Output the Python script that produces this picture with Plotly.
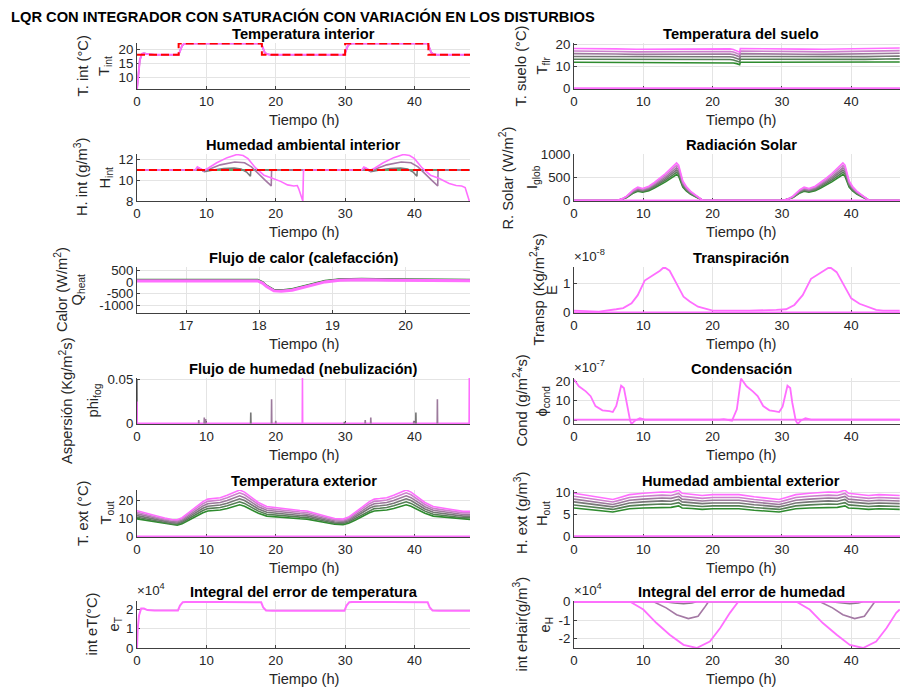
import plotly.graph_objects as go

# ------------------------------------------------------------------ data
COLORS = ["#2e8b2e", "#567e56", "#777777", "#9c7a9c", "#cc80cc", "#ff6eff"]

# 1 Temperatura interior
tin_t = [0, 0.15, 0.4, 0.7, 1.0, 1.5, 2.5, 6.0, 6.25, 6.5, 6.8, 7.2, 17.9, 18.15, 18.4, 18.7, 19.2,
         29.9, 30.15, 30.4, 30.7, 31.1, 41.9, 42.15, 42.4, 42.7, 43.2, 48.0]
tin_v = [5.8, 11.0, 16.0, 18.3, 18.5, 18.2, 18.0, 18.0, 19.5, 21.2, 21.9, 22.0, 22.0, 20.5, 18.8, 18.2, 18.0,
         18.0, 19.5, 21.2, 21.9, 22.0, 22.0, 20.5, 18.8, 18.2, 18.0, 18.0]
sp_t = [0, 6, 6, 18, 18, 30, 30, 42, 42, 48]
sp_v = [18, 18, 22, 22, 18, 18, 22, 22, 18, 18]

# 2 Temperatura del suelo (top line) and relative level of each line
tfl_t = [0, 3, 6, 9, 12, 15, 18, 21, 22.5, 23.0, 23.5, 23.9, 24.0, 27, 30, 33, 36, 39, 42, 45, 47]
tfl_top = [18.3, 18.3, 18.1, 17.9, 17.9, 18.0, 18.1, 18.2, 18.1, 17.8, 17.3, 16.6, 18.3, 18.3, 18.2, 18.0,
           17.9, 18.0, 18.2, 18.4, 18.5]
tfl_lvl = [0.655, 0.73, 0.80, 0.87, 0.935, 1.0]

# 3 Humedad ambiental interior
hin_sp = 11.0
hin_gry_t = [0, 8.8, 9.1, 9.7, 11.0, 12.5, 14.0, 15.0, 15.8, 16.35, 16.4, 32.8, 33.1, 33.7, 35.0, 36.5, 38.0,
             39.0, 39.8, 40.35, 40.4, 48]
hin_gry_v = [11, 11, 11.1, 10.85, 11.0, 11.15, 11.2, 11.1, 10.8, 10.4, 11, 11, 11.1, 10.85, 11.0, 11.15, 11.2,
             11.1, 10.8, 10.4, 11, 11]
hin_pur_t = [0, 8.6, 8.9, 9.6, 10.5, 12.0, 14.1, 15.5, 16.5, 17.5, 18.5, 19.35, 19.4, 32.6, 32.9, 33.6, 34.5,
             36.0, 38.1, 39.5, 40.5, 41.5, 42.5, 43.35, 43.4, 48]
hin_pur_v = [11, 11, 11.2, 10.9, 11.1, 11.5, 11.78, 11.7, 11.3, 10.6, 10.0, 9.46, 11, 11, 11.2, 10.9, 11.1,
             11.5, 11.78, 11.7, 11.3, 10.6, 10.0, 9.46, 11, 11]
hin_mag_t = [0, 8.4, 8.7, 9.0, 9.6, 10.3, 11.5, 13.0, 14.4, 15.3, 16.0, 17.1, 18.3, 19.5, 20.7, 21.7, 22.6,
             23.1, 23.3, 23.9, 24.0, 32.4, 32.7, 33.0, 33.6, 34.3, 35.5, 37.0, 38.4, 39.3, 40.0, 41.1, 42.3,
             43.5, 45.0, 46.0, 46.8, 47.3, 47.9]
hin_mag_v = [11.0, 11.0, 11.3, 11.2, 10.95, 11.2, 11.7, 12.2, 12.5, 12.4, 12.1, 11.2, 10.5, 10.2, 9.9, 9.56,
             9.46, 9.5, 9.2, 8.0, 11.0, 11.0, 11.3, 11.2, 10.95, 11.2, 11.7, 12.2, 12.5, 12.4, 12.1, 11.2, 10.5,
             10.2, 9.7, 9.5, 9.45, 9.3, 8.0]

# 4 Radiación solar (top line) and relative level of each line
rad_t = [0, 6.2, 7.0, 7.6, 8.6, 9.2, 9.9, 10.8, 11.6, 12.4, 13.2, 13.8, 14.4, 14.8, 15.1, 15.4, 15.7, 16.2,
         16.8, 17.6, 18.6, 30.2, 31.0, 31.6, 32.6, 33.2, 33.9, 34.8, 35.6, 36.4, 37.2, 37.8, 38.4, 38.8, 39.1,
         39.4, 39.7, 40.2, 40.8, 41.6, 42.6, 47]
rad_top = [0, 0, 40, 92, 235, 285, 257, 306, 390, 480, 580, 664, 760, 807, 760, 600, 420, 300, 200, 110, 0,
           0, 40, 92, 235, 285, 257, 306, 390, 480, 580, 664, 760, 807, 760, 600, 420, 300, 200, 110, 0, 0]
rad_lvl = [0.69, 0.75, 0.81, 0.87, 0.935, 1.0]

# 5 Flujo de calor (calefacción)
q_t = [16.33, 17.98, 18.05, 18.1, 18.2, 18.3, 18.45, 18.6, 18.75, 18.9, 19.1, 19.4, 19.8, 20.3, 20.88]
q_v = [40, 40, -60, -200, -380, -400, -350, -230, -100, 0, 70, 90, 70, 50, 45]
q_off = [60, 45, 30, 20, 10, 0]

# 6 Transpiración (x1e-8)
tr_t = [0, 3.6, 6.1, 7.1, 8.3, 9.2, 10.2, 11.4, 12.4, 13.0, 13.8, 14.8, 15.8, 16.7, 17.9, 20.0, 25.3, 29.2,
        30.6, 31.8, 33.0, 34.2, 35.4, 36.4, 36.9, 37.9, 38.8, 40.0, 41.2, 43.6, 44.6, 47]
tr_v = [0.06, 0.03, 0.11, 0.15, 0.32, 0.6, 1.11, 1.28, 1.45, 1.58, 1.45, 1.0, 0.55, 0.38, 0.2, 0.06, 0.06,
        0.09, 0.11, 0.26, 0.6, 1.17, 1.34, 1.48, 1.58, 1.4, 1.0, 0.49, 0.3, 0.09, 0.06, 0.06]

# 7 Flujo de humedad (nebulización): spikes
fog_t = [0.0, 0.0, 8.9, 9.7, 9.9, 16.4, 19.4, 20.0, 23.85, 29.9, 32.9, 33.7, 39.9, 40.2, 43.3, 47.9]
fog_h = [0.050, 0.025, 0.004, 0.0068, 0.005, 0.0125, 0.0276, 0.003, 0.052, 0.002, 0.004, 0.0068, 0.003,
         0.0125, 0.0276, 0.052]
fog_c = [2, 5, 3, 3, 3, 2, 3, 3, 5, 2, 3, 3, 3, 2, 3, 5]

# 8 Condensación (x1e-7)
co_t = [0, 0.7, 1.7, 2.4, 3.1, 4.1, 5.1, 5.6, 6.1, 6.8, 7.2, 7.6, 8.1, 8.3, 8.8, 9.5, 10.2, 21.0, 21.6,
        22.8, 23.5, 24.1, 24.9, 25.8, 26.5, 27.3, 28.2, 28.9, 29.6, 30.1, 30.8, 31.2, 31.5, 32.0, 32.3, 32.7,
        33.4, 34.2, 45.4, 46.4, 47]
co_v = [21.0, 17.5, 14.9, 12.4, 7.3, 5.1, 4.7, 4.2, 7.3, 17.8, 16.6, 9.0, -0.3, -2.0, -0.3, 1.0, 0.3, 0.3, 0.5,
        -0.3, 5.6, 21.5, 17.5, 14.9, 12.4, 7.3, 5.1, 4.7, 4.2, 7.0, 17.8, 16.6, 9.0, -0.3, -2.0, -0.3, 1.0,
        0.3, 0.3, 0.5, 0.3]
co_flat = 0.3

# 9 Temperatura exterior (top line) and relative level of each line
tout_t = [0, 1, 2, 3, 4, 5, 5.8, 6.5, 7.5, 8.5, 9.5, 10.2, 11, 12, 13, 14, 14.8, 15.5, 16.5, 17.5, 18.7, 20,
          21, 22.5, 23.5, 24.5, 25.5, 26.5, 27.5, 28.5, 29.7, 30.5, 31.5, 32.5, 33.5, 34.2, 35, 36, 37, 38,
          38.8, 39.5, 40.5, 41.5, 42.7, 44, 45, 46, 47, 48]
tout_top = [14.4, 13.5, 12.5, 11.3, 10.3, 9.5, 9.3, 10.5, 13.5, 16.5, 19.5, 20.9, 21.2, 21.7, 23.0, 24.8, 26.0,
            24.8, 22.0, 19.0, 16.7, 16.0, 15.5, 14.8, 14.5, 14.2, 13.0, 12.0, 11.0, 10.0, 9.7, 10.8, 13.5,
            16.5, 19.5, 20.9, 21.2, 21.7, 23.0, 24.8, 26.0, 24.8, 22.0, 19.0, 16.7, 16.0, 15.2, 14.5, 14.0, 14.0]
tout_lvl = [0.68, 0.745, 0.81, 0.875, 0.94, 1.0]

# 10 Humedad ambiental exterior (top line) and relative level of each line
hout_t = [0, 2, 4, 5.6, 6.5, 8, 10, 12.7, 14, 15.1, 15.6, 17, 18.5, 20, 22, 23.8, 26, 28, 29.6, 30.5, 32, 34,
          36.7, 38, 39.1, 39.6, 41, 42.5, 44, 46, 47]
hout_top = [9.8, 9.3, 8.8, 8.4, 8.8, 9.5, 9.8, 10.1, 10.0, 10.5, 9.8, 9.6, 9.3, 9.5, 9.5, 9.5, 9.0, 8.6, 8.4,
            8.8, 9.5, 9.8, 10.1, 10.0, 10.5, 9.8, 9.6, 9.3, 9.5, 9.4, 9.3]
hout_lvl = [0.66, 0.73, 0.80, 0.865, 0.93, 1.0]

# 11 Integral del error de temperatura (x1e4)
et_t = [0, 0.1, 0.3, 0.6, 1.0, 1.5, 2.5, 5.9, 6.2, 6.6, 7.5, 17.9, 18.2, 18.6, 19.5, 29.9, 30.2, 30.6, 31.5,
        41.9, 42.2, 42.6, 43.5, 48]
et_v = [0, 1.0, 1.7, 2.05, 2.05, 1.97, 1.95, 1.95, 2.2, 2.38, 2.4, 2.37, 2.1, 1.95, 1.93, 1.93, 2.2, 2.38,
        2.4, 2.37, 2.1, 1.95, 1.93, 1.93]

# 12 Integral del error de humedad (x1e4)
eh_mag_t = [0, 8.1, 10.0, 11.9, 13.8, 15.8, 17.7, 19.6, 21.1, 22.5, 23.7, 32.1, 34.0, 35.9, 37.9, 39.8, 41.7,
            43.6, 45.1, 46.5, 47]
eh_mag_v = [0, 0, -0.42, -1.15, -1.78, -2.33, -2.5, -2.15, -1.42, -0.6, 0, 0, -0.42, -1.15, -1.78, -2.33, -2.5,
            -2.15, -1.42, -0.6, -0.42]
eh_pur_t = [0, 11.5, 13.3, 14.8, 16.5, 17.9, 18.8, 19.4, 35.5, 37.3, 38.8, 40.5, 41.9, 42.8, 43.4, 47]
eh_pur_v = [0, 0, -0.33, -0.7, -0.91, -0.78, -0.33, 0, 0, -0.33, -0.7, -0.91, -0.78, -0.33, 0, 0]
eh_gry_t = [0, 13.0, 14.5, 15.8, 17.0, 17.7, 37.0, 38.5, 39.8, 41.0, 41.7, 47]
eh_gry_v = [0, 0, -0.07, -0.11, -0.06, 0, 0, -0.07, -0.11, -0.06, 0, 0]

# ------------------------------------------------------------------ layout helpers
W, H = 900, 690
FONT = "Liberation Sans, Arial, Helvetica, sans-serif"
TXT = "#262626"
AXC = "#404040"
GRID = "#e4e4e4"
LEFT = (137, 470)
RIGHT = (574, 900)
ROWS = [(43, 89), (154, 201), (267, 313), (378, 424), (490, 537), (601, 648)]

panels = [
    dict(col="L", row=0, xr=[0, 48], yr=[5.8, 22.15], yt=[10, 15, 20], ytt=["10", "15", "20"],
         title="Temperatura interior", lo="T. int (°C)", li="T<sub>int</sub>", xo=82.5, xi=105),
    dict(col="R", row=0, xr=[0, 47.04], yr=[-0.3, 20.8], yt=[0, 10, 20], ytt=["0", "10", "20"],
         title="Temperatura del suelo", lo="T. suelo (°C)", li="T<sub>flr</sub>", xo=520.5, xi=542.5),
    dict(col="L", row=1, xr=[0, 48], yr=[8, 12.55], yt=[8, 10, 12], ytt=["8", "10", "12"],
         title="Humedad ambiental interior", lo="H. int (g/m<sup>3</sup>)", li="H<sub>int</sub>", xo=80.5, xi=105),
    dict(col="R", row=1, xr=[0, 47.04], yr=[-12, 1000], yt=[0, 500, 1000], ytt=["0", "500", "1000"],
         title="Radiación Solar", lo="R. Solar (W/m<sup>2</sup>)", li="I<sub>glob</sub>", xo=506, xi=532.5),
    dict(col="L", row=2, xr=[16.33, 20.88], xt=[17, 18, 19, 20], yr=[-1315, 630], yt=[-1000, -500, 0, 500],
         ytt=["-1000", "-500", "0", "500"],
         title="Flujo de calor (calefacción)", lo="Calor (W/m<sup>2</sup>)", li="Q<sub>heat</sub>", xo=61, xi=77.5),
    dict(col="R", row=2, xr=[0, 47.04], yr=[-0.02, 1.58], yt=[0, 1], ytt=["0", "1"], exp="×10<sup>-8</sup>",
         title="Transpiración", lo="Transp (Kg/m<sup>2</sup>*s)", li="E", xo=537.5, xi=552),
    dict(col="L", row=3, xr=[0, 48], yr=[-0.0006, 0.052], yt=[0, 0.05], ytt=["0", "0.05"],
         title="Flujo de humedad (nebulización)", lo="Aspersión (Kg/m<sup>2</sup>s)", li="phi<sub>fog</sub>",
         xo=66, xi=93.5),
    dict(col="R", row=3, xr=[0, 47.04], yr=[-2.0, 21.8], yt=[0, 10, 20], ytt=["0", "10", "20"], exp="×10<sup>-7</sup>",
         title="Condensación", lo="Cond (g/m<sup>2</sup>*s)", li="ϕ<sub>cond</sub>", xo=520.5, xi=542.5),
    dict(col="L", row=4, xr=[0, 48], yr=[-0.35, 26], yt=[0, 10, 20], ytt=["0", "10", "20"],
         title="Temperatura exterior", lo="T. ext (°C)", li="T<sub>out</sub>", xo=82.5, xi=106),
    dict(col="R", row=4, xr=[0, 47.04], yr=[-0.15, 10.55], yt=[0, 5, 10], ytt=["0", "5", "10"],
         title="Humedad ambiental exterior", lo="H. ext (g/m<sup>3</sup>)", li="H<sub>out</sub>", xo=520.5, xi=542.5),
    dict(col="L", row=5, xr=[0, 48], yr=[0, 2.44], yt=[0, 1, 2], ytt=["0", "1", "2"], exp="×10<sup>4</sup>",
         title="Integral del error de temperatura", lo="int eT(°C)", li="e<sub>T</sub>", xo=91, xi=114),
    dict(col="R", row=5, xr=[0, 47.04], yr=[-2.5, 0.04], yt=[-2, -1, 0], ytt=["-2", "-1", "0"], exp="×10<sup>4</sup>",
         title="Integral del error de humedad", lo="int eHair(g/m<sup>3</sup>)", li="e<sub>H</sub>", xo=520, xi=545),
]

fig = go.Figure()
annotations = []


def ax_names(i):
    return ("xaxis" if i == 1 else f"xaxis{i}", "yaxis" if i == 1 else f"yaxis{i}",
            "x" if i == 1 else f"x{i}", "y" if i == 1 else f"y{i}")


for i, p in enumerate(panels, start=1):
    xa, ya, xid, yid = ax_names(i)
    x0, x1 = LEFT if p["col"] == "L" else RIGHT
    top, bot = ROWS[p["row"]]
    xt = p.get("xt", [0, 10, 20, 30, 40])
    common = dict(showline=True, linecolor=AXC, linewidth=1, mirror=False, ticks="inside", ticklen=3,
                  tickcolor=AXC, tickwidth=1, showgrid=True, gridcolor=GRID, gridwidth=1, zeroline=False,
                  tickfont=dict(family=FONT, size=13.3, color=TXT), automargin=False, fixedrange=True,
                  layer="below traces")
    fig.update_layout(**{
        xa: dict(domain=[x0 / W, min(x1 / W, 1.0)], range=p["xr"], anchor=yid, tickmode="array",
                 tickvals=xt, ticktext=[str(v) for v in xt], **common),
        ya: dict(domain=[1 - bot / H, 1 - top / H], range=p["yr"], anchor=xid, tickmode="array",
                 tickvals=p["yt"], ticktext=p["ytt"], **common),
    })
    cx = (x0 + 908) / 2 if p["col"] == "R" else (x0 + x1) / 2
    cy = (top + bot) / 2
    # subplot title
    annotations.append(dict(text="<b>%s</b>" % p["title"], x=cx / W, y=1 - (top - 9) / H, xref="paper",
                            yref="paper", xanchor="center", yanchor="middle", showarrow=False,
                            font=dict(family=FONT, size=14.7, color="#000000")))
    # x axis title
    annotations.append(dict(text="Tiempo (h)", x=cx / W, y=1 - (bot + 31) / H, xref="paper", yref="paper",
                            xanchor="center", yanchor="middle", showarrow=False,
                            font=dict(family=FONT, size=14.7, color=TXT)))
    # y labels (two lines)
    annotations.append(dict(text=p["lo"], x=p["xo"] / W, y=1 - cy / H, xref="paper", yref="paper",
                            xanchor="center", yanchor="middle", textangle=-90, showarrow=False,
                            font=dict(family=FONT, size=14.7, color=TXT)))
    annotations.append(dict(text=p["li"], x=p["xi"] / W, y=1 - cy / H, xref="paper", yref="paper",
                            xanchor="center", yanchor="middle", textangle=-90, showarrow=False,
                            font=dict(family=FONT, size=14.7, color=TXT)))
    if "exp" in p:
        annotations.append(dict(text=p["exp"], x=(x0 - 2) / W, y=1 - (top - 1) / H, xref="paper", yref="paper",
                                xanchor="left", yanchor="bottom", showarrow=False,
                                font=dict(family=FONT, size=13.3, color=TXT)))


def line(i, x, y, color, width=1.6, dash=None):
    _, _, xid, yid = ax_names(i)
    fig.add_trace(go.Scatter(x=x, y=y, mode="lines", xaxis=xid, yaxis=yid, hoverinfo="skip",
                             showlegend=False, line=dict(color=color, width=width, dash=dash)))


# 1
line(1, tin_t, tin_v, COLORS[2], 1.6)
line(1, tin_t, tin_v, COLORS[5], 2.0)
line(1, sp_t, sp_v, "#ff0000", 2.0, "8px,4px")
# 2
for k, lv in enumerate(tfl_lvl):
    line(2, tfl_t, [v * lv for v in tfl_top], COLORS[k])
line(2, [0, 47.04], [0, 0], COLORS[5], 2.0)
# 3
line(3, [0, 48], [hin_sp, hin_sp], COLORS[0])
line(3, hin_gry_t, hin_gry_v, "#7a7a7a")
line(3, hin_pur_t, hin_pur_v, "#a479a4")
line(3, hin_mag_t, hin_mag_v, COLORS[5])
line(3, [0, 48], [hin_sp, hin_sp], "#ff0000", 2.0, "8px,4px")
# 4
for k, lv in enumerate(rad_lvl):
    line(4, rad_t, [v * lv for v in rad_top], COLORS[k])
line(4, [0, 47.04], [0, 0], COLORS[5], 2.0)
# 5
for k, off in enumerate(q_off):
    line(5, q_t, [v + off for v in q_v], COLORS[k], 3.0 if k == 5 else 1.4)
# 6
line(6, tr_t, tr_v, COLORS[5], 1.8)
line(6, [0, 47.04], [0, 0], COLORS[5], 2.0)
# 7
line(7, [0, 48], [0, 0], COLORS[5], 2.0)
for ci in sorted(set(fog_c)):
    xs, ys = [], []
    for t, h, c in zip(fog_t, fog_h, fog_c):
        if c == ci:
            xs += [t - 0.03, t, t + 0.03, None]
            ys += [0, h, 0, None]
    line(7, xs, ys, COLORS[ci], 1.6)
# 8
line(8, [0, 47.04], [co_flat, co_flat], COLORS[5], 1.8)
line(8, co_t, co_v, COLORS[5], 1.8)
# 9
for k, lv in enumerate(tout_lvl):
    line(9, tout_t, [v * lv for v in tout_top], COLORS[k])
line(9, [0, 48], [0, 0], COLORS[5], 2.0)
# 10
for k, lv in enumerate(hout_lvl):
    line(10, hout_t, [v * lv for v in hout_top], COLORS[k])
line(10, [0, 47.04], [0, 0], COLORS[5], 2.0)
# 11
line(11, et_t, et_v, COLORS[5], 2.0)
# 12
line(12, eh_gry_t, eh_gry_v, "#8a7a8a")
line(12, eh_pur_t, eh_pur_v, "#a479a4")
line(12, eh_mag_t, eh_mag_v, COLORS[5], 1.8)
line(12, [0, 47.04], [0, 0], COLORS[5], 1.8)

annotations.append(dict(text="<b>LQR CON INTEGRADOR CON SATURACIÓN CON VARIACIÓN EN LOS DISTURBIOS</b>",
                        x=9 / W, y=1 - 16 / H, xref="paper", yref="paper", xanchor="left", yanchor="middle",
                        showarrow=False, font=dict(family=FONT, size=14.7, color="#000000")))

fig.update_layout(width=W, height=H, margin=dict(l=0, r=0, t=0, b=0), paper_bgcolor="white",
                  plot_bgcolor="white", showlegend=False, annotations=annotations, template="none",
                  font=dict(family=FONT, color=TXT))
fig.write_html("out.html")
